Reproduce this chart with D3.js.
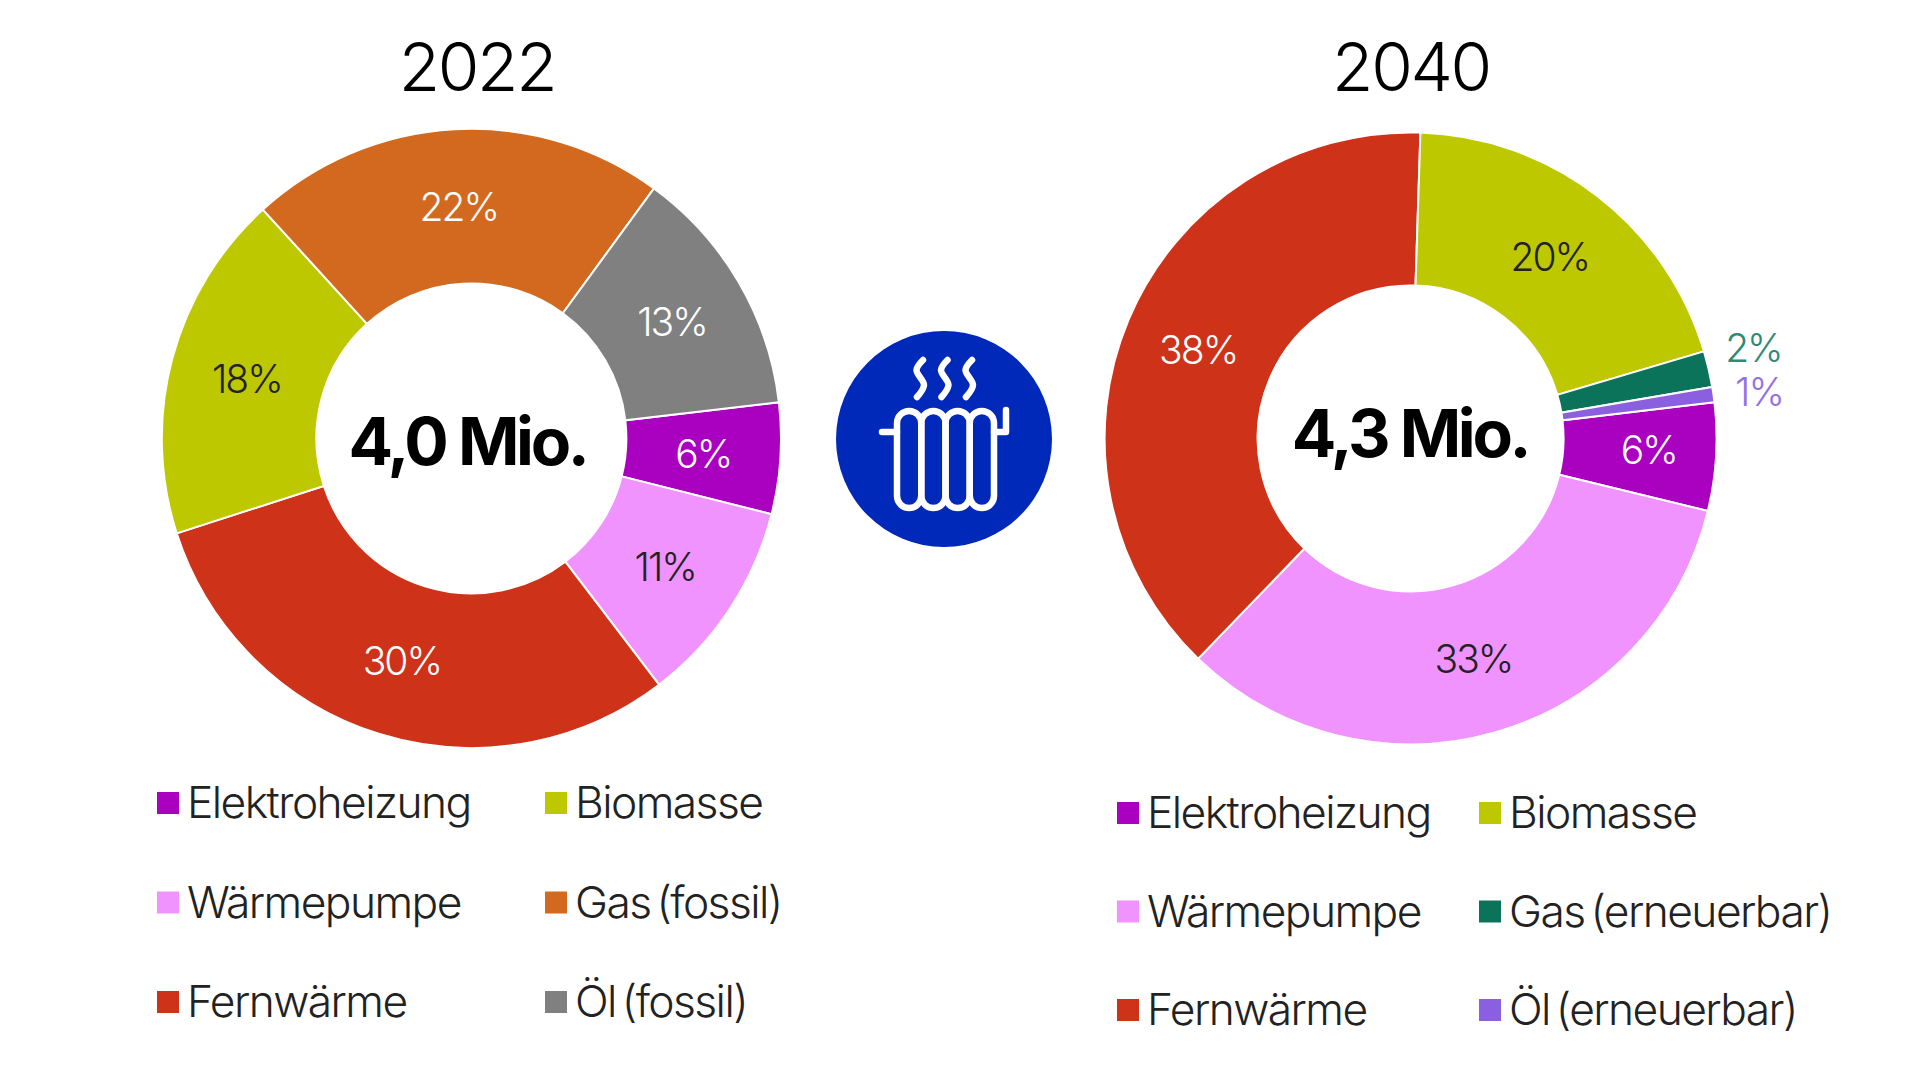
<!DOCTYPE html>
<html>
<head>
<meta charset="utf-8">
<script src="https://cdn.jsdelivr.net/npm/d3@7"></script>
<style>
html, body { margin: 0; background: #fff; }
svg { display: block; }
text { font-family: Inter, "Liberation Sans", sans-serif; font-weight: 300; letter-spacing: -0.035em; }
.pct { letter-spacing: -0.05em; }
.total { font-weight: 700; letter-spacing: -0.05em; }
.legend-label { word-spacing: -5px; }
</style>
</head>
<body>
<div id="chart"></div>
<script>
const categories2022 = ['Elektroheizung', 'Wärmepumpe', 'Fernwärme', 'Biomasse', 'Gas (fossil)', 'Öl (fossil)'];
const categories2040 = ['Elektroheizung', 'Wärmepumpe', 'Fernwärme', 'Biomasse', 'Gas (erneuerbar)', 'Öl (erneuerbar)'];
const values2022 = [5.8, 10.7, 30.4, 18.2, 21.8, 13.1];
const values2040 = [5.7, 33.4, 38.3, 19.9, 1.9, 0.8];
const colors2022 = ['#aa00c0', '#f093ff', '#ce3219', '#bec800', '#d2691e', '#808080'];
const colors2040 = ['#aa00c0', '#f093ff', '#ce3219', '#bec800', '#0b735a', '#8a5fe0'];
const labelColors2022 = ['#fff', '#222', '#fff', '#222', '#fff', '#fff'];
const labelColors2040 = ['#fff', '#222', '#fff', '#222', '#2f8a72', '#9470e8'];
const years = ['2022', '2040'];
const totals = ['4,0 Mio.', '4,3 Mio.'];

const width = 1920, height = 1080;
const svg = d3.select('#chart').append('svg')
	.attr('width', width)
	.attr('height', height);

function donut(opts) {
	const { year, total, cats, vals, colors, labelColors, cx, cy, outer, inner, startDeg, labelShift, titleX, totalX, totalY, legend } = opts;
	const g = svg.append('g').attr('transform', `translate(${cx},${cy})`);
	const start = startDeg * Math.PI / 180;
	const pie = d3.pie().sort(null).startAngle(start).endAngle(start + Math.PI * 2);
	const arc = d3.arc().innerRadius(inner).outerRadius(outer);
	const outsideArc = d3.arc().innerRadius(outer * 1.157).outerRadius(outer * 1.157);
	const arcs = pie(vals);

	g.selectAll('path')
		.data(arcs)
		.join('path')
		.attr('d', arc)
		.attr('fill', (d, i) => colors[i])
		.attr('stroke', '#fff')
		.attr('stroke-width', 2);

	// small slices get their label outside the ring, pushed apart so they don't collide
	const labelPos = d => {
		if (d.value >= 3) {
			const [x, y] = arc.centroid(d);
			const [sx, sy] = d.index === 0 ? labelShift.first : labelShift.rest;
			return [x + sx, y + sy];
		}
		const [x, y] = outsideArc.centroid(d);
		return [x - 2, y + (d.index === 4 ? -11 : 4)];
	};
	g.selectAll('text.pct')
		.data(arcs)
		.join('text')
		.attr('class', 'pct')
		.attr('transform', d => `translate(${labelPos(d)})`)
		.attr('text-anchor', 'middle')
		.attr('dominant-baseline', 'central')
		.attr('font-size', 39)
		.attr('fill', (d, i) => labelColors[i])
		.text(d => Math.round(d.value) + '%');

	svg.append('text')
		.attr('x', titleX)
		.attr('y', 66.5)
		.attr('text-anchor', 'middle')
		.attr('dominant-baseline', 'central')
		.attr('font-size', 67.5)
		.attr('fill', '#000')
		.text(year);

	svg.append('text')
		.attr('class', 'total')
		.attr('x', totalX)
		.attr('y', totalY)
		.attr('text-anchor', 'middle')
		.attr('dominant-baseline', 'central')
		.attr('font-size', 66)
		.attr('fill', '#000')
		.text(total);

	const rowY = d3.scalePoint().domain([0, 1, 2]).range(legend.rows);
	const colX = d3.scalePoint().domain([0, 1]).range(legend.cols);
	const item = svg.append('g').selectAll('g')
		.data(cats)
		.join('g')
		.attr('transform', (d, i) => `translate(${colX(Math.floor(i / 3))},${rowY(i % 3)})`);
	item.append('rect')
		.attr('x', 0)
		.attr('y', -11)
		.attr('width', 22)
		.attr('height', 22)
		.attr('fill', (d, i) => colors[i]);
	item.append('text')
		.attr('class', 'legend-label')
		.attr('x', 30)
		.attr('y', -1)
		.attr('dominant-baseline', 'central')
		.attr('font-size', 44.3)
		.attr('fill', '#222')
		.text(d => d);
}

donut({
	year: years[0], total: totals[0], cats: categories2022, vals: values2022,
	colors: colors2022, labelColors: labelColors2022,
	cx: 471.4, cy: 438.4, outer: 309.6, inner: 155, startDeg: 83.3,
	labelShift: { first: [0, 0], rest: [0, 0] },
	titleX: 477, totalX: 467.5, totalY: 441,
	legend: { rows: [803, 1002], cols: [157, 545] }
});
donut({
	year: years[1], total: totals[1], cats: categories2040, vals: values2040,
	colors: colors2040, labelColors: labelColors2040,
	cx: 1410.6, cy: 438.4, outer: 306, inner: 153, startDeg: 83.2,
	labelShift: { first: [9, -3], rest: [-1, 0] },
	titleX: 1411, totalX: 1410, totalY: 433,
	legend: { rows: [813, 1010], cols: [1117, 1479] }
});

// radiator icon
const icon = svg.append('g').attr('transform', 'translate(944,439)');
icon.append('circle').attr('r', 108).attr('fill', '#0028b9');
const white = { fill: 'none', stroke: '#fff', 'stroke-width': 6.5, 'stroke-linecap': 'round', 'stroke-linejoin': 'round' };
function applyWhite(sel) { Object.entries(white).forEach(([k, v]) => sel.attr(k, v)); return sel; }

const columnX = d3.scaleLinear().domain([0, 4]).range([-47, 50]);
applyWhite(icon.selectAll('rect')
	.data(d3.range(4))
	.join('rect')
	.attr('x', d => columnX(d))
	.attr('y', -28)
	.attr('width', d => columnX(d + 1) - columnX(d))
	.attr('height', 97)
	.attr('rx', 12.2));
applyWhite(icon.append('path').attr('d', 'M-62,-7H-47M50,-7H62V-29'));

const steam = d3.line().curve(d3.curveCatmullRom);
applyWhite(icon.selectAll('path.steam')
	.data([-24, 0.5, 25])
	.join('path')
	.attr('class', 'steam')
	.attr('d', x => steam([[x + 3, -79], [x - 3.5, -69], [x + 4, -54], [x - 3, -42]])));
</script>
</body>
</html>
